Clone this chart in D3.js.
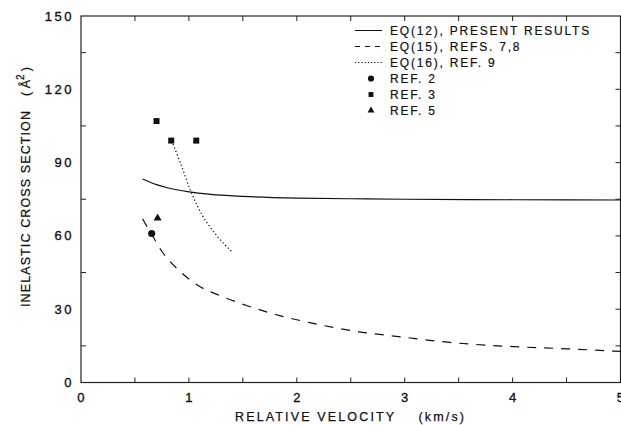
<!DOCTYPE html>
<html lang="en">
<head>
    <meta charset="UTF-8">
    <title>Inelastic Cross Section</title>
    <script src="https://cdnjs.cloudflare.com/ajax/libs/d3/7.8.5/d3.min.js"></script>
    <style>
        body {
            margin: 0;
            background: #fff;
        }
        svg {
            display: block;
            font-family: 'Liberation Sans', Arial, sans-serif;
        }
        .tick-label {
            font-size: 13px;
            letter-spacing: 2.5px;
            fill: #111;
            stroke: #111;
            stroke-width: 0.35px;
        }
        .axis-label {
            font-size: 12.5px;
            fill: #111;
            stroke: #111;
            stroke-width: 0.25px;
            white-space: pre;
        }
        .legend text {
            font-size: 12px;
            letter-spacing: 1.8px;
            fill: #111;
            stroke: #111;
            stroke-width: 0.2px;
        }
        .curve {
            fill: none;
            stroke: #111;
            stroke-width: 1.2px;
        }
    </style>
</head>
<body>
<div id="chart"></div>
<script>
// EQ(12), present results
const eq12 = [
    [0.57, 83.3], [0.7, 81.0], [0.8, 79.7], [1.0, 78.0], [1.2, 77.0], [1.5, 76.2],
    [2.0, 75.5], [2.5, 75.2], [3.0, 75.0], [4.0, 74.8], [5.0, 74.7]
];
// EQ(15), refs. 7,8
const eq15 = [
    [0.57, 67], [0.65, 61], [0.76, 53], [0.92, 45.4], [1.1, 39.3], [1.29, 35.5],
    [1.47, 32.5], [1.66, 29.7], [1.84, 27.4], [2.12, 24.5], [2.55, 20.9], [2.98, 18.6],
    [3.42, 16.4], [4.0, 14.7], [4.5, 13.8], [5.0, 12.7]
];
// EQ(16), ref. 9
const eq16 = [
    [0.84, 99], [0.92, 90], [1.02, 78], [1.13, 68], [1.26, 60], [1.40, 53.5]
];
const ref2 = [[0.655, 61]];
const ref3 = [[0.70, 107], [0.836, 99], [1.068, 99]];
const ref5 = [[0.71, 67.3]];

const xTicks = [0, 1, 2, 3, 4, 5];
const yTicks = [0, 30, 60, 90, 120, 150];
const legendItems = [
    {label: "EQ(12), PRESENT RESULTS", kind: "line", dash: null},
    {label: "EQ(15), REFS. 7,8", kind: "line", dash: "5,5"},
    {label: "EQ(16), REF. 9", kind: "line", dash: "1.2,2"},
    {label: "REF. 2", kind: "circle"},
    {label: "REF. 3", kind: "square"},
    {label: "REF. 5", kind: "triangle"}
];

const W = 621, H = 425;
const margin = {top: 16, right: 0.5, bottom: 42.5, left: 81};
const width = W - margin.left - margin.right;
const height = H - margin.top - margin.bottom;

const svg = d3.select("#chart").append("svg")
    .attr("width", W)
    .attr("height", H);
const g = svg.append("g")
    .attr("transform", `translate(${margin.left},${margin.top})`);

const x = d3.scaleLinear().domain([0, 5]).range([0, width]);
const y = d3.scaleLinear().domain([0, 150]).range([height, 0]);

// frame
g.append("rect")
    .attr("width", width).attr("height", height)
    .attr("fill", "none").attr("stroke", "#222").attr("stroke-width", 1.2);

// inward ticks
const tick = 5;
const halfX = d3.range(0.5, 5, 0.5);
const fifteen = d3.range(15, 150, 15);
const oddFifteen = fifteen.filter(v => v % 30 !== 0);
const tk = g.append("g").attr("stroke", "#222").attr("stroke-width", 1);
halfX.forEach(v => {
    tk.append("line").attr("x1", x(v)).attr("x2", x(v)).attr("y1", height).attr("y2", height - tick);
    tk.append("line").attr("x1", x(v)).attr("x2", x(v)).attr("y1", 0).attr("y2", tick);
});
oddFifteen.forEach(v => {
    tk.append("line").attr("x1", 0).attr("x2", tick).attr("y1", y(v)).attr("y2", y(v));
});
fifteen.forEach(v => {
    tk.append("line").attr("x1", width).attr("x2", width - tick).attr("y1", y(v)).attr("y2", y(v));
});

// tick labels (the last one is clipped by the page edge, as in the original)
g.selectAll(".xt").data(xTicks).join("text")
    .attr("class", "tick-label")
    .attr("x", d => x(d) + 1.2)
    .attr("y", height + 19)
    .attr("text-anchor", "middle")
    .text(d => d);
g.selectAll(".yt").data(yTicks).join("text")
    .attr("class", "tick-label")
    .attr("x", -7)
    .attr("y", d => y(d) + 4.5)
    .attr("text-anchor", "end")
    .text(d => d);

// axis titles
svg.append("text")
    .attr("class", "axis-label")
    .attr("x", 235).attr("y", 421)
    .attr("textLength", 229).attr("lengthAdjust", "spacing")
    .text("RELATIVE VELOCITY    (km/s)");

const yl = svg.append("text")
    .attr("class", "axis-label")
    .attr("transform", "translate(30,307) rotate(-90)")
    .attr("x", 0).attr("y", 0);
yl.append("tspan").attr("textLength", 196).attr("lengthAdjust", "spacing")
    .text("INELASTIC CROSS SECTION");
yl.append("tspan").attr("dx", 14).text("( Å");
yl.append("tspan").attr("dy", -6).attr("font-size", "10px").text("2");
yl.append("tspan").attr("dy", 6).attr("dx", 3).text(")");

// curves
const line = d3.line().x(d => x(d[0])).y(d => y(d[1])).curve(d3.curveMonotoneX);
g.append("path").datum(eq12).attr("class", "curve").attr("d", line);
g.append("path").datum(eq15).attr("class", "curve").attr("d", line)
    .attr("stroke-dasharray", "9,8");
g.append("path").datum(eq16).attr("class", "curve").attr("d", line)
    .attr("stroke-dasharray", "1.3,2.4");

// markers
const sym = {
    circle: d3.symbol().type(d3.symbolCircle).size(40),
    square: d3.symbol().type(d3.symbolSquare).size(36),
    triangle: d3.symbol().type(d3.symbolTriangle).size(28)
};
const drawPts = (data, kind) => g.selectAll(null).data(data).join("path")
    .attr("transform", d => `translate(${x(d[0])},${y(d[1])})`)
    .attr("d", sym[kind]())
    .attr("fill", "#111");
drawPts(ref2, "circle");
drawPts(ref3, "square");
drawPts(ref5, "triangle");

// legend
const legend = svg.append("g").attr("class", "legend");
const legSym = {
    circle: d3.symbol().type(d3.symbolCircle).size(30),
    square: d3.symbol().type(d3.symbolSquare).size(24),
    triangle: d3.symbol().type(d3.symbolTriangle).size(20)
};
legendItems.forEach((item, i) => {
    const cy = 30.5 + i * 16;
    const row = legend.append("g").attr("transform", `translate(0,${cy})`);
    if (item.kind === "line") {
        row.append("line")
            .attr("x1", 355).attr("x2", 382).attr("y1", 0).attr("y2", 0)
            .attr("stroke", "#111").attr("stroke-width", 1)
            .attr("stroke-dasharray", item.dash);
    } else {
        row.append("path")
            .attr("transform", "translate(371,0)")
            .attr("d", legSym[item.kind]())
            .attr("fill", "#111");
    }
    row.append("text").attr("x", 390).attr("y", 4.5).text(item.label);
});
</script>
</body>
</html>
